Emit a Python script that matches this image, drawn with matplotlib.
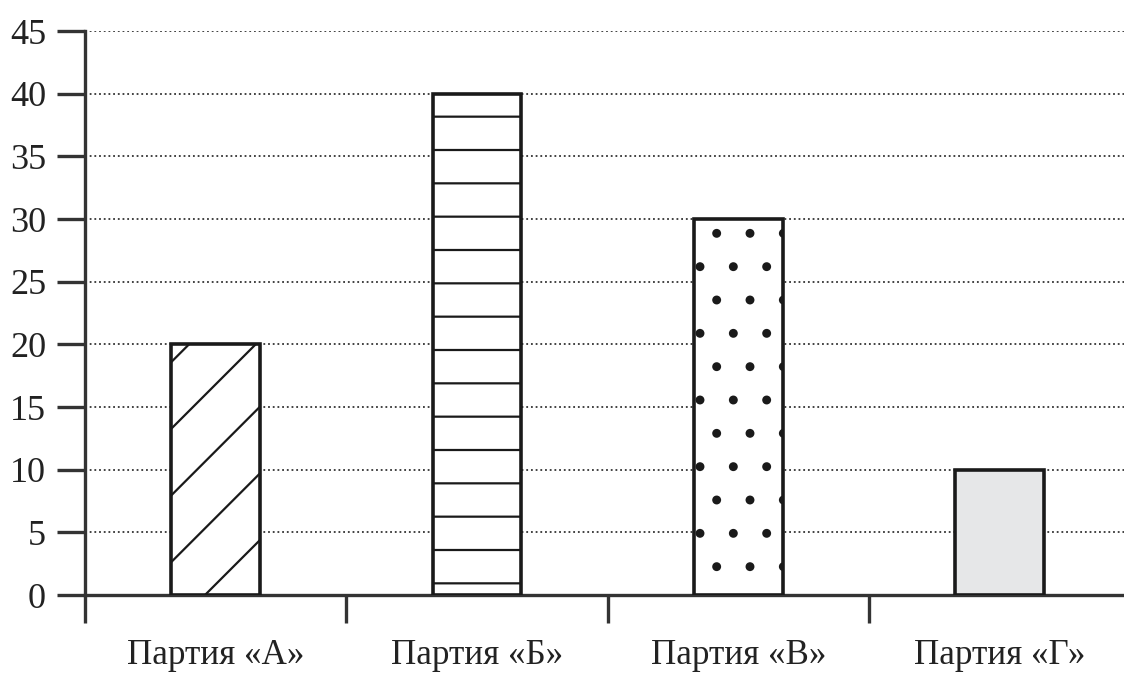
import numpy as np
import matplotlib
matplotlib.use('Agg')
import matplotlib.pyplot as plt

# data
parties = ['Партия «А»', 'Партия «Б»', 'Партия «В»', 'Партия «Г»']
votes = [20, 40, 30, 10]
hatches = ['/', '-', '.', '']
fills = ['white', 'white', 'white', '#e6e7e8']
yticks = [0, 5, 10, 15, 20, 25, 30, 35, 40, 45]

plt.rcParams['font.family'] = ['Liberation Serif', 'DejaVu Serif']
plt.rcParams['hatch.linewidth'] = 0.8

# dpi 200 so that the hatch tile (1 inch) is 200 px -> sparse hatching
fig = plt.figure(figsize=(5.62, 3.365), dpi=200)
ax = fig.add_axes([85 / 1124, 78 / 673, 1 - 85 / 1124, (595 - 31) / 673])

x = np.arange(len(parties)) + 0.5
bars = ax.bar(x, votes, width=0.34, color=fills, edgecolor='#1a1a1a',
              linewidth=1.3, zorder=3)
for b, h in zip(bars, hatches):
    b.set_hatch(h)

ax.set_ylim(0, 45)
ax.set_xlim(0, 1039 / 261.3)
ax.set_yticks(yticks)
ax.set_yticklabels([str(v) for v in yticks], fontsize=13, color='#222222')

ax.set_xticks([0, 1, 2, 3])
ax.set_xticklabels([])
ax.set_xticks(x, minor=True)
ax.set_xticklabels(parties, minor=True, fontsize=12.6, color='#222222')

ax.tick_params(axis='y', length=10, width=1.2, color='#333333', pad=4)
ax.tick_params(axis='x', which='major', length=10, width=1.2, color='#333333')
ax.tick_params(axis='x', which='minor', length=0, pad=16)

for s in ['top', 'right']:
    ax.spines[s].set_visible(False)
for s in ['left', 'bottom']:
    ax.spines[s].set_linewidth(1.2)
    ax.spines[s].set_color('#333333')

for v in yticks[1:]:
    ax.axhline(v, color='#333333', lw=0.65, ls=(0, (1.0, 1.6)), zorder=1)

fig.savefig('out.png', dpi=200)
